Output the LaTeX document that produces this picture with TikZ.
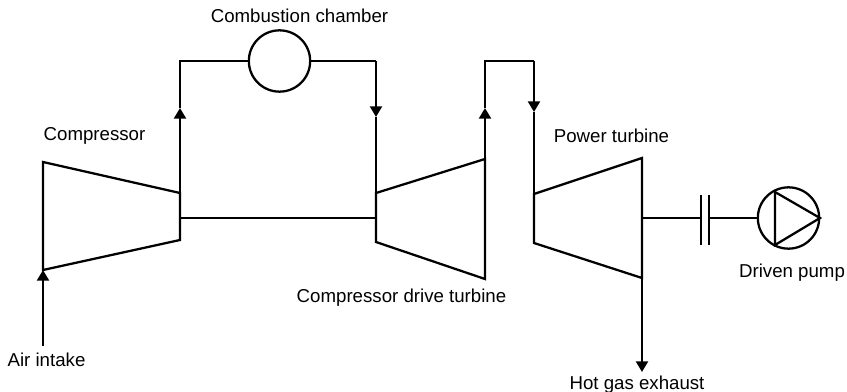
\documentclass[tikz,border=0pt]{standalone}
\usepackage{fontspec}
\setmainfont{Liberation Sans}
\usetikzlibrary{arrows.meta,positioning}
\tikzset{
  wire/.style  = {line width=1.7pt, line join=miter},
  vec/.style   = {wire, -{Triangle[length=8pt,width=9pt]}},
  vessel/.style = {circle, draw, line width=1.7pt, inner sep=0pt, minimum size=46pt},
  lbl/.style   = {inner sep=0pt, anchor=base, font=\fontsize{14}{16}\selectfont},
}
\begin{document}
\begin{tikzpicture}[x=0.75pt,y=-0.75pt]
  \useasboundingbox (0,0) rectangle (847,392);
  % compressor
  \coordinate (compA) at (43,162);
  \coordinate (compB) at (180,193);
  \coordinate (compC) at (180,240);
  \coordinate (compD) at (43,270);
  \coordinate (intake) at (43,346);
  \draw[wire] (compA) -- (compB) -- (compC) -- (compD) -- cycle;
  \draw[vec] (intake) -- (compD);
  % compressor drive turbine
  \coordinate (driveA) at (376,193);
  \coordinate (driveB) at (485,159);
  \coordinate (driveC) at (485,279);
  \coordinate (driveD) at (376,242);
  \draw[wire] (driveA) -- (driveB) -- (driveC) -- (driveD) -- cycle;
  % power turbine
  \coordinate (powerA) at (534,194);
  \coordinate (powerB) at (642,158);
  \coordinate (powerC) at (642,278);
  \coordinate (powerD) at (534,243);
  \draw[wire] (powerA) -- (powerB) -- (powerC) -- (powerD) -- cycle;
  % combustion chamber loop
  \node[vessel] (chamber) at (279.5,61) {};
  \coordinate (airTop) at (180,61);
  \coordinate (airTip) at (180,108);
  \coordinate (fuelTop) at (376,61);
  \coordinate (fuelTip) at (376,117);
  \draw[vec] (compB) -- (airTip);
  \draw[wire] (airTip) -- (airTop) -- (chamber);
  \draw[wire] (chamber) -- (fuelTop);
  \draw[vec] (fuelTop) -- (fuelTip);
  \draw[wire] (fuelTip) -- (driveA);
  % gas path between the turbines
  \coordinate (gasTopL) at (485,61);
  \coordinate (gasTopR) at (534,61);
  \coordinate (gasTipL) at (485,108);
  \coordinate (gasTipR) at (534,112);
  \draw[vec] (driveB) -- (gasTipL);
  \draw[wire] (gasTipL) -- (gasTopL) -- (gasTopR);
  \draw[vec] (gasTopR) -- (gasTipR);
  \draw[wire] (gasTipR) -- (powerA);
  % shafts
  \coordinate (shaftL) at (180,218);
  \coordinate (shaftR) at (376,218);
  \draw[wire] (shaftL) -- (shaftR);
  \coordinate (exhaust) at (642,372);
  \draw[vec] (powerC) -- (exhaust);
  % coupling and pump
  \node[vessel] (pump) at (788.5,218) {};
  \coordinate (outShaft) at (642,218);
  \coordinate (cplL) at (701,218);
  \coordinate (cplR) at (709,218);
  \draw[wire] (outShaft) -- (cplL);
  \draw[wire] (cplR) -- (pump);
  \draw[wire] (701,195) -- (701,245);
  \draw[wire] (709,195) -- (709,245);
  \draw[wire] (775,192) -- (820,218) -- (775,245) -- cycle;
  % labels
  \node[lbl] (chamberLbl) at (299.5,23) {Combustion chamber};
  \node[lbl] (compLbl) at (94.5,141) {Compressor};
  \node[lbl] (airLbl) at (46.5,366) {Air intake};
  \node[lbl] (driveLbl) at (401.5,302) {Compressor drive turbine};
  \node[lbl] (powerLbl) at (611.5,143) {Power turbine};
  \node[lbl] (pumpLbl) at (792,277) {Driven pump};
  \node[lbl] (exhaustLbl) at (637,389) {Hot gas exhaust};
\end{tikzpicture}
\end{document}
